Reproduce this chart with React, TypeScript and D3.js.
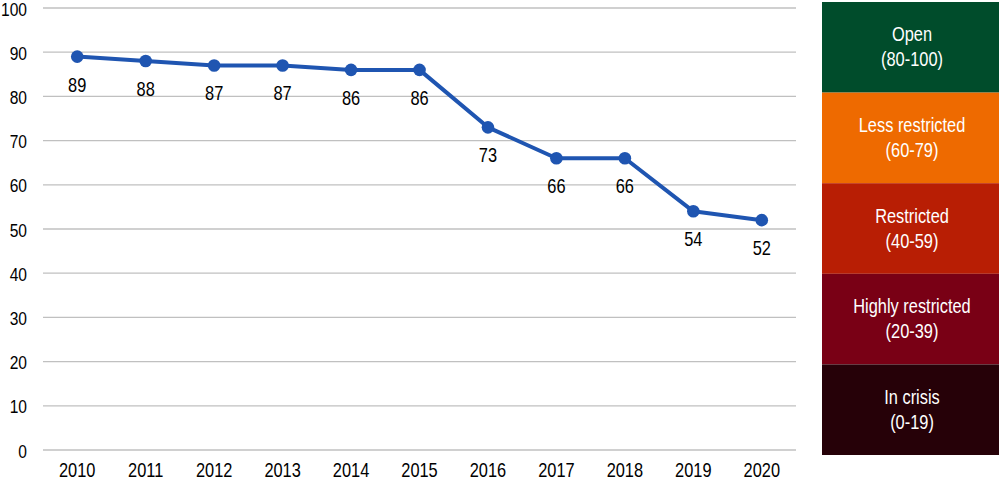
import React from "react";
import * as d3 from "d3";

const years = ["2010","2011","2012","2013","2014","2015","2016","2017","2018","2019","2020"];
const values = [89, 88, 87, 87, 86, 86, 73, 66, 66, 54, 52];
const yTicks = [0, 10, 20, 30, 40, 50, 60, 70, 80, 90, 100];
const legendTitles = ["Open", "Less restricted", "Restricted", "Highly restricted", "In crisis"];
const legendRanges = ["(80-100)", "(60-79)", "(40-59)", "(20-39)", "(0-19)"];
const legendColors = ["#004c2b", "#ee6a00", "#b81e04", "#790015", "#260108"];

const SX = 0.82;

function T(props: { x: number; y: number; anchor: string; fill?: string; size?: number; children: React.ReactNode }) {
  return (
    <text
      transform={`translate(${props.x},${props.y}) scale(${SX},1)`}
      dy="0.35em"
      textAnchor={props.anchor}
      fontSize={props.size ?? 20}
      fill={props.fill ?? "#000"}
    >
      {props.children}
    </text>
  );
}

export default function App() {
  const W = 1000, H = 481;
  const left = 43, right = 796, top = 8, bottom = 450;
  const x = d3.scaleBand<string>().domain(years).range([left, right]);
  const y = d3.scaleLinear().domain([0, 100]).range([bottom, top]);
  const cx = (d: string) => (x(d) as number) + x.bandwidth() / 2;
  const line = d3.line<number>().x((_, i) => cx(years[i])).y((v) => y(v));
  const lg = d3.scaleBand<number>().domain(d3.range(5)).range([2, 455]);
  const font = "'Liberation Sans', Arial, sans-serif";
  return (
    <svg width={W} height={H} style={{ position: "absolute", left: 0, top: 0, background: "#fff" }} fontFamily={font}>
      {yTicks.map((t) => (
        <g key={t}>
          <line x1={left} x2={right} y1={y(t)} y2={y(t)} stroke="#c0c0c0" strokeWidth={1.3} />
          <T x={27} y={y(t) + 1} anchor="end" size={19}>{t}</T>
        </g>
      ))}
      {years.map((yr) => (
        <T key={yr} x={cx(yr)} y={470} anchor="middle">{yr}</T>
      ))}
      <path d={line(values) as string} fill="none" stroke="#1f55b1" strokeWidth={4} strokeLinejoin="round" />
      {values.map((v, i) => (
        <g key={i}>
          <circle cx={cx(years[i])} cy={y(v)} r={6.3} fill="#1f55b1" />
          <T x={cx(years[i])} y={y(v) + 28} anchor="middle">{v}</T>
        </g>
      ))}
      {legendTitles.map((t, i) => {
        const y0 = lg(i) as number;
        const h = lg.bandwidth();
        const mx = 912;
        return (
          <g key={t}>
            <rect x={822} y={y0} width={177} height={h} fill={legendColors[i]} />
            <T x={mx} y={y0 + h / 2 - 13} anchor="middle" fill="#fff">{t}</T>
            <T x={mx} y={y0 + h / 2 + 12} anchor="middle" fill="#fff">{legendRanges[i]}</T>
          </g>
        );
      })}
    </svg>
  );
}
